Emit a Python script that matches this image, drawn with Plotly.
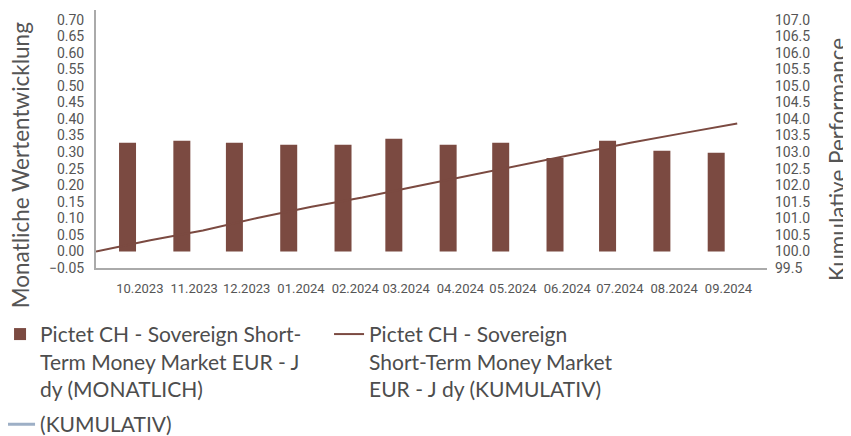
import pandas as pd
import plotly.graph_objects as go

# ---- data ----
months = ["2023-10", "2023-11", "2023-12", "2024-01", "2024-02", "2024-03",
          "2024-04", "2024-05", "2024-06", "2024-07", "2024-08", "2024-09"]
tick_labels = ["10.2023", "11.2023", "12.2023", "01.2024", "02.2024", "03.2024",
               "04.2024", "05.2024", "06.2024", "07.2024", "08.2024", "09.2024"]
monthly_perf = [0.328, 0.334, 0.328, 0.322, 0.322, 0.340,
                0.322, 0.328, 0.282, 0.334, 0.304, 0.298]
cum_dates = ["2023-09-30", "2023-10-31", "2023-11-30", "2023-12-31", "2024-01-31",
             "2024-02-29", "2024-03-31", "2024-04-30", "2024-05-31", "2024-06-30",
             "2024-07-31", "2024-08-31", "2024-09-30"]
cum_perf = [100.00, 100.34, 100.63, 101.01, 101.35, 101.63, 101.97,
            102.29, 102.64, 102.94, 103.28, 103.58, 103.86]

name_monthly = "Pictet CH - Sovereign Short-<br>Term Money Market EUR - J<br>dy (MONATLICH)"
name_cum = "Pictet CH - Sovereign<br>Short-Term Money Market<br>EUR - J dy (KUMULATIV)"
name_bench = "(KUMULATIV)"
title_left = "Monatliche Wertentwicklung"
title_right = "Kumulative Performance"

# ---- styling ----
BROWN = "#7B4A41"
BENCH = "#9DAFC6"
GREY_TXT = "#555555"
AXIS_GREY = "#AAAAAA"
YTICK_FONT = dict(family="Roboto, sans-serif", size=14, color=GREY_TXT)
XTICK_FONT = dict(family="Roboto, sans-serif", size=13, color=GREY_TXT)
TITLE_FONT = dict(family="Lato, sans-serif", size=22.5, color=GREY_TXT)
LEGEND_FONT = dict(family="Lato, sans-serif", size=21, color="#4D4D4D")

month_start = pd.to_datetime(months)
bar_x = month_start + pd.Timedelta(days=17)
tick_x = bar_x + pd.Timedelta(days=7)
bar_width_ms = 9.7 * 86400000

fig = go.Figure()
fig.add_trace(go.Bar(
    x=bar_x, y=monthly_perf, name=name_monthly,
    marker=dict(color=BROWN, line=dict(width=0)),
    width=[bar_width_ms] * len(months),
    yaxis="y", legend="legend",
))
fig.add_trace(go.Scatter(
    x=pd.to_datetime(cum_dates), y=cum_perf, name=name_cum, mode="lines",
    line=dict(color=BROWN, width=2), yaxis="y2", legend="legend",
))
fig.add_trace(go.Scatter(
    x=[None], y=[None], name=name_bench, mode="lines",
    line=dict(color=BENCH, width=3), yaxis="y2", legend="legend2",
))

fig.update_layout(
    width=851, height=436,
    margin=dict(l=88, r=92, t=2, b=176, autoexpand=False),
    paper_bgcolor="white", plot_bgcolor="white",
    showlegend=True,
    xaxis=dict(
        type="date",
        range=["2023-09-30", "2024-10-17"],
        tickvals=tick_x, ticktext=tick_labels, tickangle=0,
        tickfont=XTICK_FONT, ticks="", ticklabelstandoff=7,
        showline=True, linecolor=AXIS_GREY, linewidth=2,
        showgrid=False, zeroline=False,
    ),
    yaxis=dict(
        range=[-0.05, 0.729], tick0=0, dtick=0.05, tickformat=".2f",
        tickfont=YTICK_FONT, ticks="", ticklabelstandoff=7,
        showline=True, linecolor=AXIS_GREY, linewidth=2,
        showgrid=False, zeroline=False,
    ),
    yaxis2=dict(
        overlaying="y", side="right",
        range=[99.5, 107.29], tick0=99.5, dtick=0.5, tickformat=".1f",
        tickfont=YTICK_FONT, ticks="", ticklabelstandoff=7,
        showline=False, showgrid=False, zeroline=False,
    ),
    legend=dict(
        orientation="h", x=-0.143, xanchor="left", y=-0.178, yanchor="top",
        font=LEGEND_FONT, bgcolor="rgba(0,0,0,0)", traceorder="normal",
        valign="top", entrywidth=284, entrywidthmode="pixels",
    ),
    legend2=dict(
        orientation="h", x=-0.143, xanchor="left", y=-0.5275, yanchor="top",
        font=LEGEND_FONT, bgcolor="rgba(0,0,0,0)", valign="top",
    ),
    annotations=[
        dict(text=title_left, textangle=-90, font=TITLE_FONT, showarrow=False,
             xref="paper", yref="paper", x=-0.113, y=0.399,
             xanchor="center", yanchor="middle"),
        dict(text=title_right, textangle=-90, font=TITLE_FONT, showarrow=False,
             xref="paper", yref="paper", x=1.106, y=0.419,
             xanchor="center", yanchor="middle"),
    ],
)

fig.write_html("out.html")
